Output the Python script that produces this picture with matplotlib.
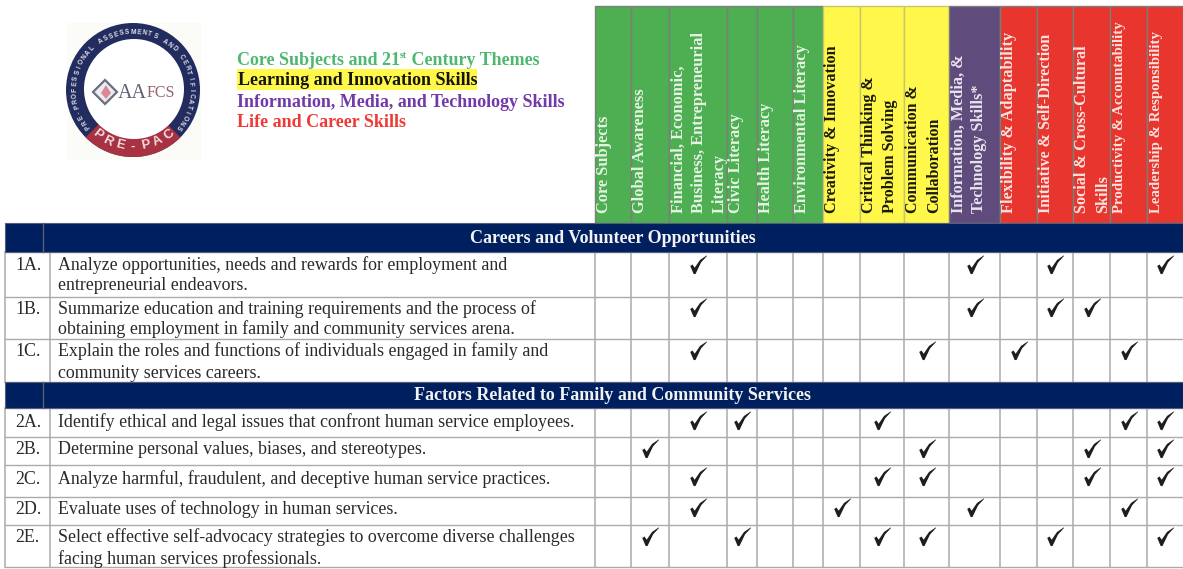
import numpy as np
import matplotlib
matplotlib.use("Agg")
import matplotlib.pyplot as plt
from matplotlib.patches import Rectangle, Circle, Wedge, Polygon
from matplotlib.path import Path

# ---- data ----
column_labels = [
    ["Core Subjects"], ["Global Awareness"],
    ["Financial, Economic,", "Business, Entrepreneurial", "Literacy"],
    ["Civic Literacy"], ["Health Literacy"], ["Environmental Literacy"],
    ["Creativity & Innovation"], ["Critical Thinking &", "Problem Solving"],
    ["Communication &", "Collaboration"],
    ["Information, Media, &", "Technology Skills*"],
    ["Flexibility & Adaptability"], ["Initiative & Self-Direction"],
    ["Social & Cross-Cultural", "Skills"],
    ["Productivity & Accountability"], ["Leadership & Responsibility"],
]
column_groups = ["core"] * 6 + ["learn"] * 3 + ["info"] + ["life"] * 5
section_1 = "Careers and Volunteer Opportunities"
section_2 = "Factors Related to Family and Community Services"
row_codes = ["1A.", "1B.", "1C.", "2A.", "2B.", "2C.", "2D.", "2E."]
row_text = [
    ["Analyze opportunities, needs and rewards for employment and", "entrepreneurial endeavors."],
    ["Summarize education and training requirements and the process of", "obtaining employment in family and community services arena."],
    ["Explain the roles and functions of individuals engaged in family and", "community services careers."],
    ["Identify ethical and legal issues that confront human service employees."],
    ["Determine personal values, biases, and stereotypes."],
    ["Analyze harmful, fraudulent, and deceptive human service practices."],
    ["Evaluate uses of technology in human services."],
    ["Select effective self-advocacy strategies to overcome diverse challenges", "facing human services professionals."],
]
row_checks = [
    [2, 9, 11, 14],
    [2, 9, 11, 12],
    [2, 8, 10, 13],
    [2, 3, 7, 13, 14],
    [1, 8, 12, 14],
    [2, 7, 8, 12, 14],
    [2, 6, 9, 13],
    [1, 3, 7, 8, 11, 14],
]
legend_lines = ["Learning and Innovation Skills", "Information, Media, and Technology Skills", "Life and Career Skills"]

# ---- layout (pixels) ----
col_edges = [595, 631, 669, 727, 757, 793, 823, 860, 904, 949, 1000, 1037, 1073, 1110, 1147, 1183]
col_font = [11.8, 11.8, 11.8, 11.8, 11.8, 11.8, 11.7, 11.5, 11.5, 11.7, 11.8, 11.6, 11.7, 10.7, 10.7]
block1 = [252, 297, 339, 382]
block2 = [408, 437, 465, 497, 525, 567]
text_off = [13.5, 12.5, 12.5, 14.5, 12.5, 14.5, 12.5, 12.5]
line_gap = [20, 20, 22, 0, 0, 0, 0, 22]
check_off = [13, 11, 12, 13, 12, 12, 11, 12]
LEFT, CODE_SEP, BAR_SEP = 5, 50, 43
HEAD_TOP, HEAD_BOT = 6, 223
BAR1, BAR2 = (223, 252), (382, 408)

colors = {"core": "#4DAE52", "learn": "#FFF84A", "info": "#5F4B7C", "life": "#E8352E"}
text_cols = {"core": "#E6F3E4", "learn": "#1A1A0A", "info": "#E8E4EE", "life": "#FBE3DF"}
NAVY = "#001F5F"
GRID = "#ABABAB"
INK = "#2A2A2A"
SERIF = "Liberation Serif"

fig = plt.figure(figsize=(11.83, 5.69), dpi=100, facecolor="white")
ax = fig.add_axes([0, 0, 1, 1])
ax.set_xlim(0, 1183)
ax.set_ylim(569, 0)
ax.axis("off")

# ---- column headers ----
for i, (lines, g) in enumerate(zip(column_labels, column_groups)):
    x0, x1 = col_edges[i], col_edges[i + 1]
    ax.add_patch(Rectangle((x0, HEAD_TOP), x1 - x0, HEAD_BOT - HEAD_TOP, fc=colors[g],
                           ec="#7A7F7A" if g != "learn" else "#C9C56A", lw=1.0, zorder=1))
    for j, line in enumerate(lines):
        ax.text(x0 + 9.5 + j * 20.5, 213, line, rotation=90, ha="center", va="bottom",
                family=SERIF, weight="bold", fontsize=col_font[i], color=text_cols[g], zorder=3)

# ---- section bars ----
for (y0, y1), title in zip((BAR1, BAR2), (section_1, section_2)):
    ax.add_patch(Rectangle((LEFT, y0), 1183 - LEFT, y1 - y0, fc=NAVY, ec="#555F7A", lw=0.8, zorder=2))
    ax.plot([BAR_SEP, BAR_SEP], [y0, y1], color="#5A6070", lw=1.0, zorder=3)
    ax.text(613, (y0 + y1) / 2 + 0.5, title, ha="center", va="center", family=SERIF, weight="bold",
            fontsize=13.0, color="#F2F2F2", zorder=4)

# ---- grid ----
for block in (block1, block2):
    for y in block:
        ax.plot([LEFT, 1183], [y, y], color=GRID, lw=1.0, zorder=1)
    for x in [LEFT, CODE_SEP] + col_edges[:-1]:
        ax.plot([x, x], [block[0], block[-1]], color=GRID, lw=1.1, zorder=1)

# ---- rows ----
tops = block1[:-1] + block2[:-1]
check = Path([(-0.72, -0.05), (-0.5, 0.1), (-0.28, -0.22), (0.25, 0.55), (0.92, 1.0),
              (0.95, 0.95), (0.35, 0.3), (-0.2, -0.85), (-0.38, -0.85), (-0.72, -0.05)], closed=False)
for k, (code, lines, cols, top) in enumerate(zip(row_codes, row_text, row_checks, tops)):
    ax.text(15, top + text_off[k], code, va="center", ha="left", family=SERIF, fontsize=12.9, color=INK)
    for j, line in enumerate(lines):
        ax.text(58, top + text_off[k] + j * line_gap[k], line, va="center", ha="left",
                family=SERIF, fontsize=12.9, color=INK)
    xs = [(col_edges[c] + col_edges[c + 1]) / 2 - 0.5 for c in cols]
    ax.scatter(xs, [top + check_off[k]] * len(xs), marker=check, s=210, color="#1E1E1E", linewidths=0, zorder=4)

# ---- legend ----
LEG_FS = 13.0
r = fig.canvas.get_renderer()
t = ax.text(237, 60, "Core Subjects and 21", va="center", family=SERIF, weight="bold", fontsize=LEG_FS, color="#4DB86F")
x = ax.transData.inverted().transform(t.get_window_extent(r))[1, 0]
s = ax.text(x, 55, "st", va="center", family=SERIF, weight="bold", fontsize=7, color="#4DB86F")
x = ax.transData.inverted().transform(s.get_window_extent(r))[1, 0]
ax.text(x, 60, " Century Themes", va="center", family=SERIF, weight="bold", fontsize=LEG_FS, color="#4DB86F")
ax.add_patch(Rectangle((237, 69), 240, 21, fc="#FFF84A", ec="none", zorder=0))
ax.text(238, 80, legend_lines[0], va="center", family=SERIF, weight="bold", fontsize=LEG_FS, color="#14140A")
ax.text(237, 102, legend_lines[1], va="center", family=SERIF, weight="bold", fontsize=LEG_FS, color="#7239A8")
ax.text(237, 122, legend_lines[2], va="center", family=SERIF, weight="bold", fontsize=LEG_FS, color="#EE3A36")

# ---- logo ----
CX, CY = 133, 90
ax.add_patch(Rectangle((67, 23), 134, 137, fc="#FBFBF8", ec="none", zorder=0))
ax.add_patch(Circle((CX, CY), 67, fc="#232C5E", ec="none", zorder=1))
ax.add_patch(Wedge((CX, CY), 67, 45, 135, fc="#A83242", ec="none", zorder=2))
ax.add_patch(Circle((134, 89), 50, fc="white", ec="none", zorder=3))


def ring_text(s, radius, center_deg, step, fs, bottom=False, color="white"):
    n = len(s)
    for k, ch in enumerate(s):
        off = (k - (n - 1) / 2) * step
        if bottom:
            a = np.deg2rad(center_deg - off)
            rot = off
        else:
            a = np.deg2rad(center_deg + off)
            rot = -off
        ax.text(CX + radius * np.cos(a), CY + radius * np.sin(a), ch, rotation=rot,
                rotation_mode="anchor", ha="center", va="center", family="Liberation Sans",
                weight="bold", fontsize=fs, color=color, zorder=5)


ring_text("PRE-PROFESSIONAL ASSESSMENTS AND CERTIFICATIONS", 58, -90, 5.6, 4.8, color="#DDE0EA")
ring_text("PRE-PAC", 57, 90, 13, 9.5, bottom=True, color="#F0DDE0")
ax.add_patch(Polygon([(93, 92), (105, 80), (117, 92), (105, 104)], closed=True, fc="#ECECF0",
                     ec="#6A6F80", lw=1.6, zorder=5))
ax.add_patch(Polygon([(101, 93), (106, 85), (111, 93), (106, 99)], closed=True, fc="#D88A94", ec="none", zorder=6))
ax.text(118, 93, "AA", ha="left", va="center", family=SERIF, fontsize=14.5, color="#5E6270", zorder=5)
ax.text(147, 93, "FCS", ha="left", va="center", family=SERIF, fontsize=11.5, color="#94646C", zorder=5)

fig.savefig("out.png", dpi=100, facecolor="white")
